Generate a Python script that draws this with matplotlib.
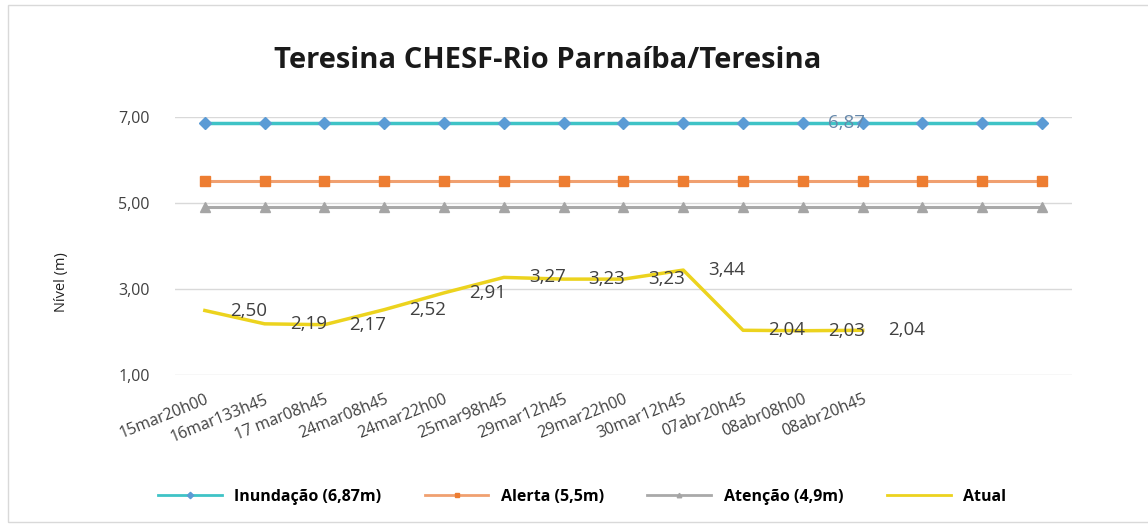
import numpy as np
import matplotlib.pyplot as plt
from matplotlib.patches import Rectangle

# dados
rotulos = ['15mar20h00', '16mar133h45', '17 mar08h45', '24mar08h45', '24mar22h00',
           '25mar98h45', '29mar12h45', '29mar22h00', '30mar12h45', '07abr20h45',
           '08abr08h00', '08abr20h45', '', '', '']
inundacao = [6.87] * 15
alerta = [5.5] * 15
atencao = [4.9] * 15
atual = [2.50, 2.19, 2.17, 2.52, 2.91, 3.27, 3.23, 3.23, 3.44, 2.04, 2.03, 2.04]
yticks = [1, 3, 5, 7]

fonte = ['Open Sans', 'DejaVu Sans']

fig = plt.figure(figsize=(11.48, 5.27), dpi=100)
ax = fig.add_axes([0.1524, 0.2884, 0.7814, 0.4896])

x = np.arange(len(rotulos))
xa = np.arange(len(atual))

ax.plot(x, inundacao, color='#3fc3c6', lw=2.5, marker='D', ms=6.5,
        mfc='#5b9bd5', mec='#5b9bd5', label='Inundação (6,87m)', zorder=3)
ax.plot(x, alerta, color='#f0a070', lw=2.2, marker='s', ms=7,
        mfc='#ed7d31', mec='#ed7d31', label='Alerta (5,5m)', zorder=3)
ax.plot(x, atencao, color='#a9a9a9', lw=2.2, marker='^', ms=6.5,
        mfc='#a5a5a5', mec='#a5a5a5', label='Atenção (4,9m)', zorder=3)
ax.plot(xa, atual, color='#ecd31e', lw=2.5, label='Atual', zorder=3)

for i, v in enumerate(atual):
    ax.annotate(f'{v:.2f}'.replace('.', ','), (i, v), xytext=(18, 0),
                textcoords='offset points', ha='left', va='center',
                fontsize=13.5, color='#404040', family=fonte, zorder=4)
ax.annotate('6,87', (10, inundacao[10]), xytext=(18, 0),
            textcoords='offset points', ha='left', va='center',
            fontsize=13.5, color='#6688aa', family=fonte, zorder=4)

ax.set_xlim(-0.5, 14.5)
ax.set_ylim(1, 7)
ax.set_yticks(yticks)
ax.set_yticklabels([f'{t:.2f}'.replace('.', ',') for t in yticks],
                   fontsize=11.5, color='#404040', family=fonte)
ax.set_xticks(x)
ax.set_xticklabels(rotulos, rotation=22, ha='right', rotation_mode='anchor',
                   fontsize=11.5, color='#404040', family=fonte)
ax.tick_params(axis='both', length=0)
ax.tick_params(axis='y', pad=18)
ax.tick_params(axis='x', pad=12)
ax.grid(axis='y', color='#d9d9d9', lw=1)
ax.set_axisbelow(True)
for s in ax.spines.values():
    s.set_visible(False)

fig.text(0.477, 0.886, 'Teresina CHESF-Rio Parnaíba/Teresina', ha='center',
         va='center', fontsize=21, fontweight='bold', color='#1a1a1a', family=fonte)
fig.text(0.054, 0.465, 'Nível (m)', rotation=90, ha='center', va='center',
         fontsize=10.5, color='#222222', family=fonte)

leg = fig.legend(loc='center', bbox_to_anchor=(0.507, 0.057), ncol=4, frameon=False,
                 handlelength=4, columnspacing=2.7, markerscale=0.5,
                 prop={'family': fonte, 'weight': 'bold', 'size': 11.5})
for h in leg.legend_handles:
    h.set_linewidth(2)

fig.patches.append(Rectangle((8 / 1148, 5 / 527), 1.0, 517 / 527,
                             transform=fig.transFigure, fill=False,
                             ec='#d9d9d9', lw=1))

fig.savefig('out.png', dpi=100)
